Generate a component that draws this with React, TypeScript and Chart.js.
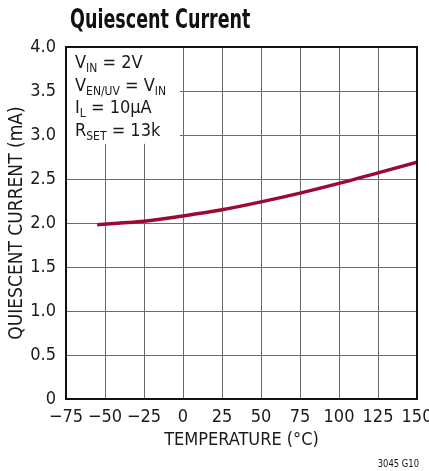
import React, { useEffect, useRef } from "react";
import { Chart, registerables } from "chart.js";

Chart.register(...registerables);

const temperatures = [-55, -40, -25, 0, 25, 50, 75, 100, 125, 150];
const quiescentCurrent = [1.98, 2.0, 2.02, 2.08, 2.15, 2.24, 2.34, 2.45, 2.57, 2.69];
const xTickLabels = ["\u221275", "\u221250", "\u221225", "0", "25", "50", "75", "100", "125", "150"];
const xTickValues = [-75, -50, -25, 0, 25, 50, 75, 100, 125, 150];
const yTickValues = [0, 0.5, 1, 1.5, 2, 2.5, 3, 3.5, 4];
const yTickLabels = ["0", "0.5", "1.0", "1.5", "2.0", "2.5", "3.0", "3.5", "4.0"];

const FONT = "'Liberation Sans Narrow', 'DejaVu Sans Condensed', 'Liberation Sans', sans-serif";

type Seg = { t: string; sub?: boolean };
const noteLines: Seg[][] = [
  [{ t: "V" }, { t: "IN", sub: true }, { t: " = 2V" }],
  [{ t: "V" }, { t: "EN/UV", sub: true }, { t: " = V" }, { t: "IN", sub: true }],
  [{ t: "I" }, { t: "L", sub: true }, { t: " = 10\u00b5A" }],
  [{ t: "R" }, { t: "SET", sub: true }, { t: " = 13k" }],
];

const overlayPlugin = {
  id: "overlay",
  beforeDatasetsDraw(chart: any) {
    const { ctx, chartArea, scales } = chart;
    const xs = scales.x;
    const ys = scales.y;
    ctx.save();
    const boxRight = xs.getPixelForValue(-2);
    const boxBottom = ys.getPixelForValue(2.9);
    ctx.fillStyle = "#ffffff";
    ctx.fillRect(chartArea.left + 1, chartArea.top + 1, boxRight - chartArea.left - 1, boxBottom - chartArea.top - 1);
    ctx.fillStyle = "#1a1a1a";
    ctx.textBaseline = "alphabetic";
    ctx.textAlign = "left";
    const x0 = chartArea.left + 9;
    let y = chartArea.top + 21;
    for (const line of noteLines) {
      let x = x0;
      for (const seg of line) {
        ctx.font = seg.sub ? `12px ${FONT}` : `18px ${FONT}`;
        ctx.fillText(seg.t, x, seg.sub ? y + 4 : y);
        x += ctx.measureText(seg.t).width;
      }
      y += 22.5;
    }
    ctx.restore();
  },
  afterDraw(chart: any) {
    const { ctx, chartArea } = chart;
    ctx.save();
    ctx.strokeStyle = "#111";
    ctx.lineWidth = 2;
    ctx.strokeRect(chartArea.left, chartArea.top, chartArea.right - chartArea.left, chartArea.bottom - chartArea.top);
    ctx.fillStyle = "#111";
    ctx.textBaseline = "alphabetic";
    ctx.textAlign = "left";
    ctx.save();
    ctx.translate(70, 28);
    ctx.scale(0.75, 1);
    ctx.font = `bold 26px ${FONT}`;
    ctx.fillText("Quiescent Current", 0, 0);
    ctx.restore();
    ctx.save();
    ctx.translate(419, 467);
    ctx.scale(0.85, 1);
    ctx.font = `11px ${FONT}`;
    ctx.textAlign = "right";
    ctx.fillText("3045 G10", 0, 0);
    ctx.restore();
    ctx.restore();
  },
};

export default function App() {
  const ref = useRef<HTMLCanvasElement>(null);
  useEffect(() => {
    if (!ref.current) return;
    const chart = new Chart(ref.current, {
      type: "line",
      data: {
        datasets: [
          {
            data: temperatures.map((t, i) => ({ x: t, y: quiescentCurrent[i] })),
            borderColor: "#9b0a33",
            borderWidth: 3.5,
            pointRadius: 0,
            cubicInterpolationMode: "monotone",
            fill: false,
          },
        ],
      },
      options: {
        responsive: false,
        animation: false,
        layout: { padding: { left: 0, top: 47, right: 12, bottom: 20 } },
        plugins: { legend: { display: false }, tooltip: { enabled: false }, title: { display: false } },
        scales: {
          x: {
            type: "linear",
            min: -75,
            max: 150,
            afterBuildTicks: (s: any) => {
              s.ticks = xTickValues.map((v) => ({ value: v }));
            },
            afterFit: (s: any) => {
              s.height = 52;
              s.paddingLeft = 0;
              s.paddingRight = 0;
            },
            border: { display: false },
            grid: { color: "#6a6a6a", lineWidth: 1, drawTicks: false },
            ticks: {
              autoSkip: false,
              maxRotation: 0,
              padding: 8,
              color: "#1a1a1a",
              font: { family: FONT, size: 18 },
              callback: (v: any) => xTickLabels[xTickValues.indexOf(Number(v))],
            },
            title: {
              display: true,
              text: "TEMPERATURE (\u00b0C)",
              color: "#1a1a1a",
              font: { family: FONT, size: 18 },
              padding: { top: 2, bottom: 0 },
            },
          },
          y: {
            type: "linear",
            min: 0,
            max: 4,
            afterBuildTicks: (s: any) => {
              s.ticks = yTickValues.map((v) => ({ value: v }));
            },
            afterFit: (s: any) => {
              s.width = 66;
              s.paddingTop = 0;
              s.paddingBottom = 0;
            },
            border: { display: false },
            grid: { color: "#6a6a6a", lineWidth: 1, drawTicks: false },
            ticks: {
              autoSkip: false,
              padding: 10,
              color: "#1a1a1a",
              font: { family: FONT, size: 18 },
              callback: (v: any) => yTickLabels[yTickValues.indexOf(Number(v))],
            },
            title: {
              display: true,
              text: "QUIESCENT CURRENT (mA)",
              color: "#1a1a1a",
              font: { family: FONT, size: 19 },
              padding: { top: 6, bottom: 2 },
            },
          },
        },
      },
      plugins: [overlayPlugin],
    } as any);
    return () => chart.destroy();
  }, []);
  return (
    <div style={{ position: "absolute", left: 0, top: 0, width: 429, height: 471, background: "#fff" }}>
      <canvas ref={ref} width={429} height={471} style={{ width: 429, height: 471, display: "block" }} />
    </div>
  );
}
